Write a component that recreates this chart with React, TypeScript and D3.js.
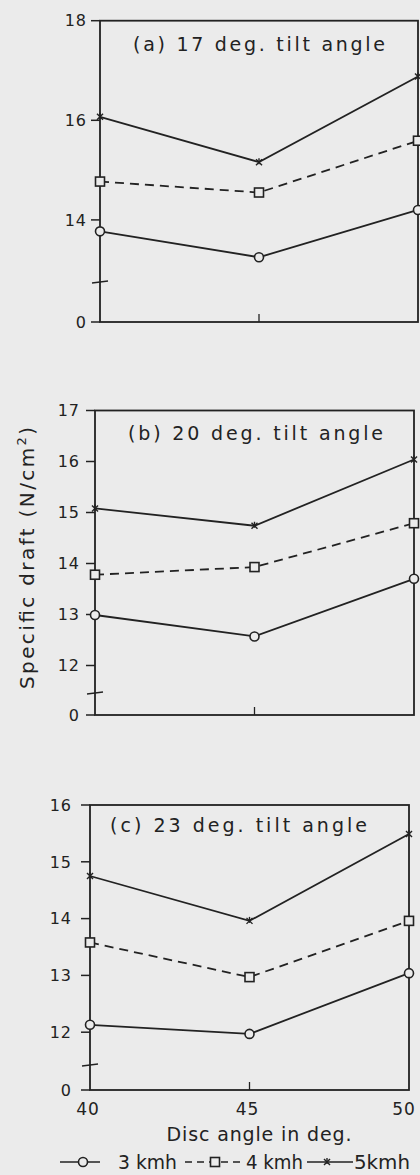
import React from "react";
import { scaleLinear, line } from "d3";

// disc angle (deg) on the x axis
const discAngles = [40, 45, 50];
const xTickLabels = ["40", "45", "50"];
const speedLabels = ["3 kmh", "4 kmh", "5kmh"];
const panelTitles = ["(a) 17 deg. tilt angle", "(b) 20 deg. tilt angle", "(c) 23 deg. tilt angle"];

// specific draft, N/cm^2
const tilt17kmh3 = [13.77, 13.25, 14.2];
const tilt17kmh4 = [14.77, 14.55, 15.59];
const tilt17kmh5 = [16.07, 15.16, 16.88];
const tilt20kmh3 = [12.99, 12.57, 13.7];
const tilt20kmh4 = [13.78, 13.93, 14.79];
const tilt20kmh5 = [15.08, 14.74, 16.04];
const tilt23kmh3 = [12.13, 11.97, 13.04];
const tilt23kmh4 = [13.58, 12.97, 13.96];
const tilt23kmh5 = [14.75, 13.96, 15.49];

const yTicks17 = [0, 14, 16, 18];
const yTicks20 = [0, 12, 13, 14, 15, 16, 17];
const yTicks23 = [0, 12, 13, 14, 15, 16];

const INK = "#222";
const BG = "#ebebeb";
const FONT = "'DejaVu Sans', sans-serif";

// frame geometry per panel (layout only)
const panels = [
  { title: panelTitles[0], series: [tilt17kmh3, tilt17kmh4, tilt17kmh5], ticks: yTicks17,
    x0: 100, x1: 418, topY: 20.7, top: 18, unit: 49.8, breakY: 282, zeroY: 322,
    titleX: 133, titleW: 252, titleY: 51, labelGap: 13 },
  { title: panelTitles[1], series: [tilt20kmh3, tilt20kmh4, tilt20kmh5], ticks: yTicks20,
    x0: 95, x1: 414, topY: 410.5, top: 17, unit: 51.0, breakY: 693, zeroY: 715,
    titleX: 128, titleW: 255, titleY: 440, labelGap: 15 },
  { title: panelTitles[2], series: [tilt23kmh3, tilt23kmh4, tilt23kmh5], ticks: yTicks23,
    x0: 90, x1: 409, topY: 805, top: 16, unit: 56.8, breakY: 1065, zeroY: 1090,
    titleX: 110, titleW: 257, titleY: 832, labelGap: 18 },
];

const Marker = ({ kind, x, y }: { kind: number; x: number; y: number }) => {
  if (kind === 0) return <circle cx={x} cy={y} r={4.5} fill={BG} stroke={INK} strokeWidth={1.6} />;
  if (kind === 1)
    return <rect x={x - 4.5} y={y - 4.5} width={9} height={9} fill={BG} stroke={INK} strokeWidth={1.6} />;
  return (
    <g stroke={INK} strokeWidth={1.4}>
      <line x1={x - 3} y1={y - 3} x2={x + 3} y2={y + 3} />
      <line x1={x + 3} y1={y - 3} x2={x - 3} y2={y + 3} />
      <line x1={x} y1={y - 4} x2={x} y2={y + 2} />
    </g>
  );
};

const Panel = ({ p, last }: { p: any; last: boolean }) => {
  const x = scaleLinear().domain([40, 50]).range([p.x0, p.x1]);
  const breakVal = p.top - (p.breakY - p.topY) / p.unit;
  const y = scaleLinear().domain([0, breakVal, p.top]).range([p.zeroY, p.breakY, p.topY]);
  const path = line<number>()
    .x((_, i) => x(discAngles[i]))
    .y((d) => y(d));

  return (
    <g>
      {/* frame */}
      <rect x={p.x0} y={p.topY} width={p.x1 - p.x0} height={p.zeroY - p.topY}
        fill="none" stroke={INK} strokeWidth={1.8} />
      {/* y ticks */}
      {p.ticks.map((t: number) => (
        <g key={t}>
          <line x1={p.x0 - 9} x2={p.x0} y1={y(t)} y2={y(t)} stroke={INK} strokeWidth={1.5} />
          <text x={p.x0 - p.labelGap} y={y(t)} dy="0.36em" textAnchor="end"
            fontFamily={FONT} fontSize={16} letterSpacing={1} fill={INK}>{t}</text>
        </g>
      ))}
      {/* axis break */}
      <line x1={p.x0 - 8} x2={p.x0 + 8} y1={p.breakY + 1} y2={p.breakY - 1} stroke={INK} strokeWidth={1.5} />
      {/* middle x tick */}
      <line x1={x(45)} x2={x(45)} y1={p.zeroY} y2={p.zeroY - 8} stroke={INK} strokeWidth={1.3} />
      {/* series */}
      {p.series.map((s: number[], k: number) => (
        <path key={k} d={path(s) || ""} fill="none" stroke={INK} strokeWidth={1.8}
          strokeDasharray={k === 1 ? "9 6" : undefined} />
      ))}
      {p.series.map((s: number[], k: number) =>
        s.map((v, i) => <Marker key={k + "-" + i} kind={k} x={x(discAngles[i])} y={y(v)} />)
      )}
      <text x={p.titleX} y={p.titleY} textLength={p.titleW} lengthAdjust="spacing"
        fontFamily={FONT} fontSize={19} fill={INK}>{p.title}</text>
      {last &&
        discAngles.map((a, i) => (
          <text key={a} x={Math.min(x(a) - 2, 404)} y={p.zeroY + 25} textAnchor="middle"
            fontFamily={FONT} fontSize={17} letterSpacing={1} fill={INK}>{xTickLabels[i]}</text>
        ))}
    </g>
  );
};

export default function App() {
  const legendY = 1162;
  const items = [
    { kind: 0, lx0: 60, lx1: 100, mx: 83, tx: 118, tw: 59 },
    { kind: 1, lx0: 185, lx1: 242, mx: 215, tx: 246, tw: 57 },
    { kind: 2, lx0: 307, lx1: 353, mx: 327, tx: 354, tw: 56 },
  ];
  return (
    <svg width={420} height={1175} style={{ position: "absolute", left: 0, top: 0 }}>
      <rect width={420} height={1175} fill={BG} />
      {panels.map((p, i) => (
        <Panel key={i} p={p} last={i === panels.length - 1} />
      ))}
      <text transform="translate(34,558) rotate(-90)" textAnchor="middle" textLength={262}
        lengthAdjust="spacing" fontFamily={FONT} fontSize={20} fill={INK}>
        Specific draft (N/cm<tspan dy={-8} fontSize={13}>2</tspan><tspan dy={8}>)</tspan>
      </text>
      <text x={259} y={1141} textAnchor="middle" textLength={185} lengthAdjust="spacing"
        fontFamily={FONT} fontSize={19} fill={INK}>Disc angle in deg.</text>
      {items.map((it, i) => (
        <g key={i}>
          <line x1={it.lx0} x2={it.lx1} y1={legendY} y2={legendY} stroke={INK} strokeWidth={1.7}
            strokeDasharray={it.kind === 1 ? "7 5" : undefined} />
          <Marker kind={it.kind} x={it.mx} y={legendY} />
          <text x={it.tx} y={legendY + 7} textLength={it.tw} lengthAdjust="spacingAndGlyphs"
            fontFamily={FONT} fontSize={19} fill={INK}>{speedLabels[i]}</text>
        </g>
      ))}
    </svg>
  );
}
